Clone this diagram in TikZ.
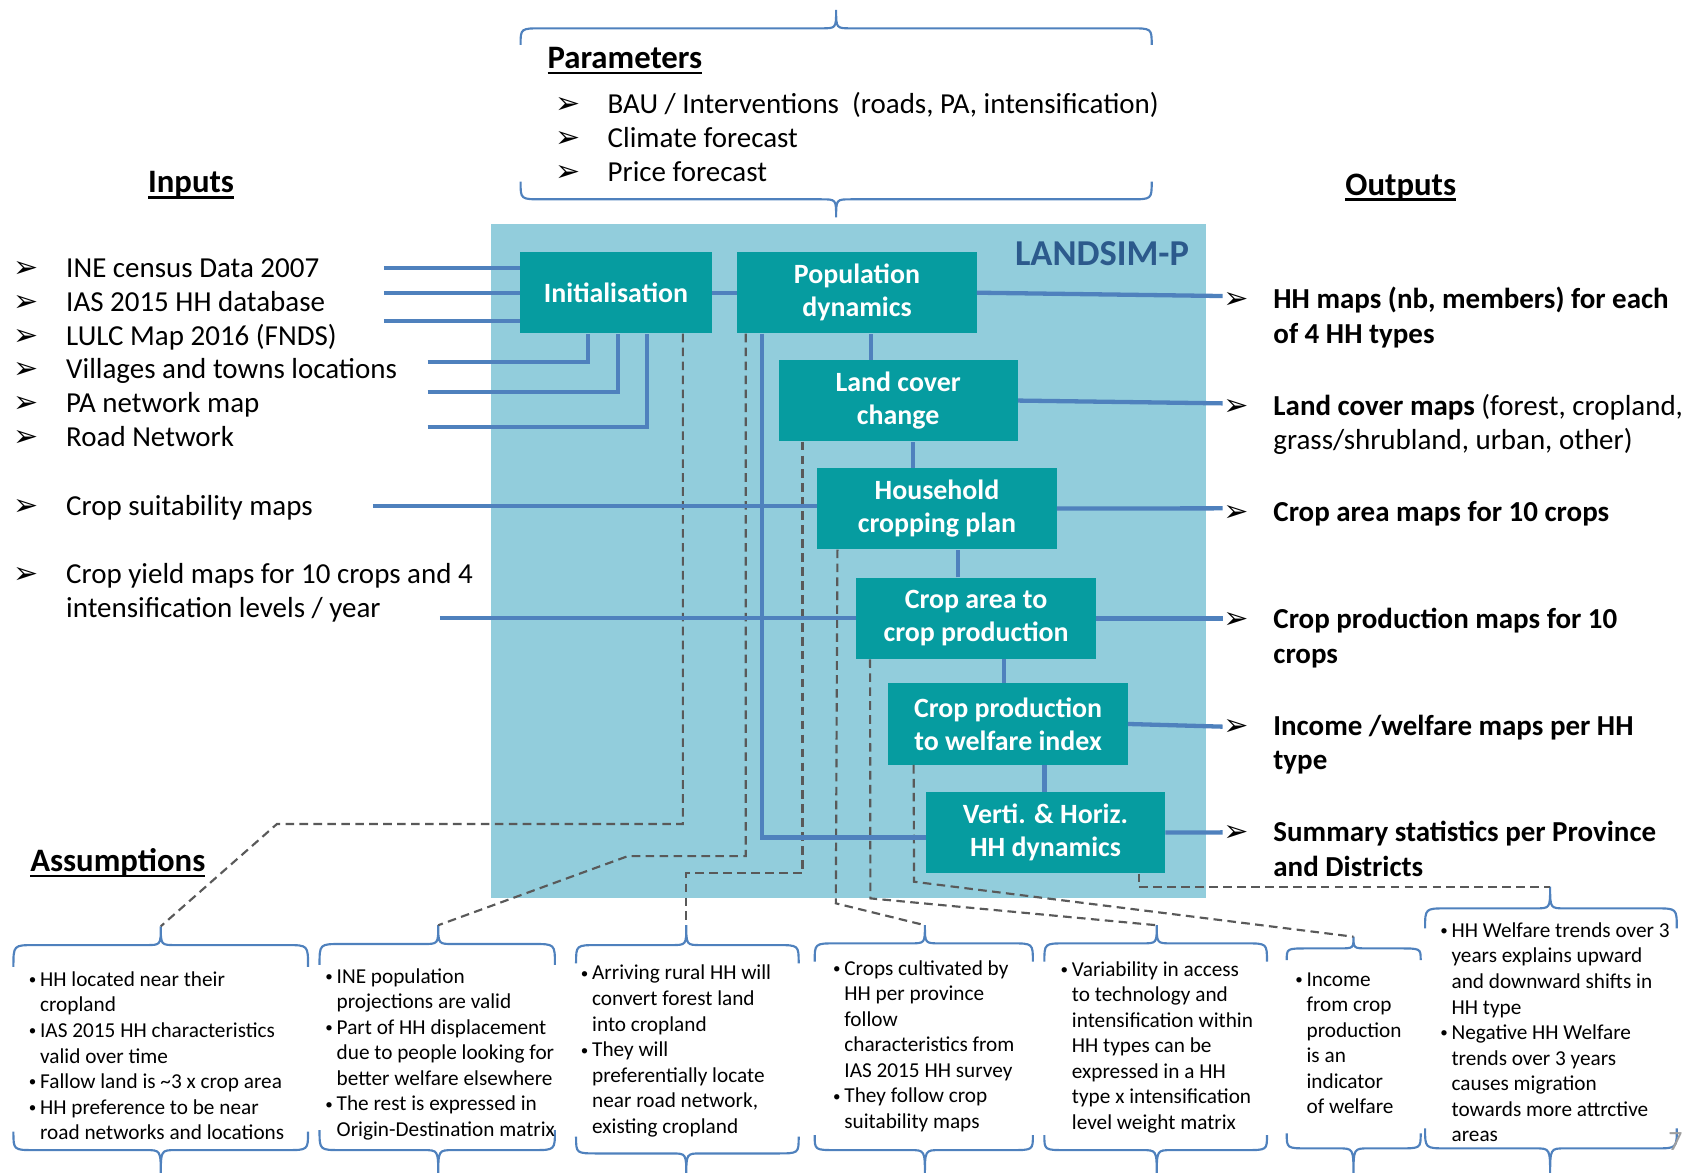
\documentclass[tikz,border=0pt]{standalone}
\usepackage{fontspec}
\setmainfont{Carlito}
\newfontfamily\symf{DejaVu Sans}
\usetikzlibrary{calc}
\definecolor{lsbg}{RGB}{146,205,220}
\definecolor{lsbox}{RGB}{6,156,160}
\definecolor{lsline}{RGB}{79,129,189}
\definecolor{lsname}{RGB}{44,90,140}
\definecolor{lsdash}{RGB}{89,89,89}
\def\cbrace(#1)(#2:#3:#4)(#5:#6:#7){\draw[brc] (#2,#7) .. controls (#2,#6) .. (#2+20,#6) -- (#4-14,#6) .. controls (#4,#6) .. (#4,#5) .. controls (#4,#6) .. (#4+14,#6) -- (#3-20,#6) .. controls (#3,#6) .. (#3,#7); \coordinate (#1) at (#4,#5);}
\def\arr{\raisebox{0pt}{\fontsize{28}{28}\symf ➢}}
\def\ib{\makebox[49pt][l]{\arr}}
\def\ii{\hspace*{49pt}}
\def\ob{\makebox[46.7pt][l]{\arr}}
\def\oi{\hspace*{46.7pt}}
\def\abul{\makebox[10.5pt][l]{\raisebox{1.5pt}{\fontsize{14}{14}\selectfont •}}}
\def\aind{\hspace*{10.5pt}}
\def\undl#1{\setbox0=\hbox{#1}\rlap{\rule[-5.5pt]{\wd0}{2.5pt}}\box0}

\begin{document}
\begin{tikzpicture}[x=1pt, y=-1pt,
		box/.style={fill=lsbox, text=white, font=\fontsize{26}{31}\selectfont\bfseries, align=center, minimum width=223pt, minimum height=76pt, inner sep=0pt},
		link/.style={draw=lsline, line width=4pt},
		dsh/.style={draw=lsdash, line width=2pt, dash pattern=on 8pt off 5pt},
		brc/.style={draw=lsline, line width=2pt},
		item/.style={anchor=base west, inner sep=0pt, align=left, font=\fontsize{27}{32}\selectfont},
		note/.style={anchor=base west, inner sep=0pt, align=left, font=\fontsize{19.8}{23.8}\selectfont},
		head/.style={anchor=base, inner sep=0pt, font=\fontsize{30.5}{36}\selectfont\bfseries}]
		%%%%% START %%%%%
		\useasboundingbox (0,0) rectangle (1568,1092);
		
		\fill[lsbg] (457.2,208.7) rectangle (1123.7,836.4);
		\node[anchor=base east, inner sep=0pt, text=lsname, font=\fontsize{34}{40}\selectfont\bfseries] (lsname) at (1108,247.8) {LANDSIM-P};
		
		\node[box, minimum width=178.4pt] (init) at (573.9,272.7) {Initialisation};
		\node[box] (pop) at (798.4,272.7) {Population\\dynamics};
		\node[box] (land) at (836.8,373.2) {Land cover\\change};
		\node[box] (hh) at (872.9,473.8) {Household\\cropping plan};
		\node[box] (area) at (909.4,576.1) {Crop area to\\crop production};
		\node[box] (welf) at (939.2,674.5) {Crop production\\to welfare index};
		\node[box] (dyn) at (974.1,775.7) {Verti. \& Horiz.\\HH dynamics};
		
		\node[head, anchor=base west] (partitle) at (510,63.7) {\undl{Parameters}};
		\node[item] (par1) at (517,105.6) {\ib BAU / Interventions~ (roads, PA, intensification)};
		\node[item] (par2) at (517,137.5) {\ib Climate forecast};
		\node[item] (par3) at (517,169.3) {\ib Price forecast};
		\cbrace(pt)(485:1073:779)(9.3:26.4:41.9)
		\cbrace(pb)(485:1073:779)(202.5:185.7:169.3)
		
		\node[head] (intitle) at (178,179.5) {\undl{Inputs}};
		\node[item] (in1) at (12.5,258.4) {\ib INE census Data 2007};
		\node[item] (in2) at (12.5,290) {\ib IAS 2015 HH database};
		\node[item] (in3) at (12.5,321.5) {\ib LULC Map 2016 (FNDS)};
		\node[item] (in4) at (12.5,353) {\ib Villages and towns locations};
		\node[item] (in5) at (12.5,384.7) {\ib PA network map};
		\node[item] (in6) at (12.5,416.2) {\ib Road Network};
		\node[item] (in7) at (12.5,480) {\ib Crop suitability maps};
		\node[item] (in8) at (12.5,543.5+32) {\ib Crop yield maps for 10 crops and 4\\\ii intensification levels / year};
		
		\node[head] (outtitle) at (1305,181.7) {\undl{Outputs}};
		\node[item, font=\fontsize{27}{32.5}\selectfont\bfseries] (out1) at (1139.5,287.3+32.5) {\ob HH maps (nb, members) for each\\\oi of 4 HH types};
		\node[item, font=\fontsize{27}{32.5}\selectfont\bfseries] (out2) at (1139.5,386.7+32.5) {\ob Land cover maps {\mdseries (forest, cropland,}\\\oi{\mdseries grass/shrubland, urban, other)}};
		\node[item, font=\fontsize{27}{32.5}\selectfont\bfseries] (out3) at (1139.5,486) {\ob Crop area maps for 10 crops};
		\node[item, font=\fontsize{27}{32.5}\selectfont\bfseries] (out4) at (1139.5,585.4+32.5) {\ob Crop production maps for 10\\\oi crops};
		\node[item, font=\fontsize{27}{32.5}\selectfont\bfseries] (out5) at (1139.5,684.8+32.5) {\ob Income /welfare maps per HH\\\oi type};
		\node[item, font=\fontsize{27}{32.5}\selectfont\bfseries] (out6) at (1139.5,784.2+32.5) {\ob Summary statistics per Province\\\oi and Districts};
		
		\node[head, anchor=base west] (astitle) at (28,812) {\undl{Assumptions}};
		
		\cbrace(b1)(12.5:287:149.8)(863:880.5:900.7)
		\cbrace(c1)(12.5:287:149.8)(1096:1071.5:1054.4)
		\cbrace(b2)(297.7:517:408.3)(862:879.5:899)
		\cbrace(c2)(297.7:517:408.3)(1096:1071.5:1053)
		\cbrace(b3)(536.7:744.1:639.4)(862:880.5:897.5)
		\cbrace(c3)(536.7:744.1:639.4)(1096:1074.6:1059)
		\cbrace(b4)(759:962.3:861.7)(862:878.9:896)
		\cbrace(c4)(759:962.3:861.7)(1096:1071.5:1057.5)
		\cbrace(b5)(973:1180.4:1077.7)(862:878.9:896)
		\cbrace(c5)(973:1180.4:1077.7)(1096:1071.5:1057.5)
		\cbrace(b6)(1198.8:1323.6:1261)(872.7:883.6:894.5)
		\cbrace(c6)(1198.8:1323.6:1261)(1096:1069.9:1056)
		\cbrace(b7)(1327.7:1562.2:1444.2)(826.1:846.3:865)
		\cbrace(c7)(1327.7:1562.2:1444.2)(1096:1069.9:1051.3)
		
		\node[note] (as1) at (26.7,919+6*23.8) {\abul HH located near their\\\aind cropland\\\abul IAS 2015 HH characteristics\\\aind valid over time\\\abul Fallow land is \textasciitilde3 x crop area\\\abul HH preference to be near\\\aind road networks and locations};
		\node[note] (as2) at (303,916+6*23.8) {\abul INE population\\\aind projections are valid\\\abul Part of HH displacement\\\aind due to people looking for\\\aind better welfare elsewhere\\\abul The rest is expressed in\\\aind Origin-Destination matrix};
		\node[note] (as3) at (541,913+6*23.8) {\abul Arriving rural HH will\\\aind convert forest land\\\aind into cropland\\\abul They will\\\aind preferentially locate\\\aind near road network,\\\aind existing cropland};
		\node[note] (as4) at (776,908.4+6*23.8) {\abul Crops cultivated by\\\aind HH per province\\\aind follow\\\aind characteristics from\\\aind IAS 2015 HH survey\\\abul They follow crop\\\aind suitability maps};
		\node[note] (as5) at (988,909.4+6*23.8) {\abul Variability in access\\\aind to technology and\\\aind intensification within\\\aind HH types can be\\\aind expressed in a HH\\\aind type x intensification\\\aind level weight matrix};
		\node[note] (as6) at (1206.6,918.7+5*23.8) {\abul Income\\\aind from crop\\\aind production\\\aind is an\\\aind indicator\\\aind of welfare};
		\node[note] (as7) at (1341.7,873.3+8*23.8) {\abul HH Welfare trends over 3\\\aind years explains upward\\\aind and downward shifts in\\\aind HH type\\\abul Negative HH Welfare\\\aind trends over 3 years\\\aind causes migration\\\aind towards more attrctive\\\aind areas};
		\node[anchor=base, inner sep=0pt, text=gray!75, font=\fontsize{26}{30}\selectfont] (pgnum) at (1561,1072) {7};
		
		\coordinate (s1) at ($(init.south west)+(151.7,0)$);
		\coordinate (s2) at ($(pop.south west)+(8.1,0)$);
		\coordinate (s3) at ($(land.south west)+(22.5,0)$);
		\coordinate (s4) at ($(hh.south west)+(19,0)$);
		\coordinate (s5) at ($(area.south west)+(12.9,0)$);
		\coordinate (s6) at ($(welf.south west)+(23.7,0)$);
		\coordinate (s7) at ($(dyn.south west)+(198.4,0)$);
		\draw[dsh] (s1) |- (258,767.7) -- (b1);
		\draw[dsh] (s2) |- (585,797.6) -- (b2);
		\draw[dsh] (s3) |- (640.1,813.7) -| (b3);
		\draw[dsh] (s4) -- (778.7,841.6) -- (b4);
		\draw[dsh] (s5) -- (810.9,837) -- (b5);
		\draw[dsh] (s6) -- (851.6,821.5) -- (b6);
		\draw[dsh] (s7) |- (b7);
		
		\coordinate (i1) at (357.7,250);
		\coordinate (i2) at (357.7,272.7);
		\coordinate (i3) at (357.7,299);
		\coordinate (i4) at (398.5,337);
		\coordinate (i5) at (398.5,365);
		\coordinate (i6) at (398.5,397.5);
		\coordinate (i7) at (347.3,471.1);
		\coordinate (i8) at (409.7,575.5);
		\draw[link] (i1) -- (i1 -| init.west);
		\draw[link] (i2) -- (init.west);
		\draw[link] (i3) -- (i3 -| init.west);
		\draw[link] (i4) -| ($(init.south west)+(63.2,0)$);
		\draw[link] (i5) -| ($(init.south west)+(91,0)$);
		\draw[link] (i6) -| ($(init.south west)+(118.4,0)$);
		\draw[link] (i7) -- (i7 -| hh.west);
		\draw[link] (i8) -- (i8 -| area.west);
		
		\draw[link] (init) -- (pop);
		\coordinate (l1) at ($(land.north west)+(86.2,0)$);
		\coordinate (l2) at ($(hh.north west)+(89.5,0)$);
		\coordinate (l3) at ($(area.north west)+(95,0)$);
		\coordinate (l4) at ($(welf.north west)+(107.9,0)$);
		\coordinate (l5) at ($(dyn.north west)+(110.6,0)$);
		\draw[link] (l1) -- (l1 |- pop.south);
		\draw[link] (l2) -- (l2 |- land.south);
		\draw[link] (l3) -- (l3 |- hh.south);
		\draw[link] (l4) -- (l4 |- area.south);
		\draw[link] (l5) -- (l5 |- welf.south);
		\draw[link] ($(pop.south west)+(23.4,0)$) |- ($(dyn.west)+(0,4.5)$);
		
		\coordinate (o1) at (1139,275.8);
		\coordinate (o2) at (1139,375.8);
		\coordinate (o3) at (1139,473.6);
		\coordinate (o4) at (1139,576.1);
		\coordinate (o5) at (1139,677);
		\coordinate (o6) at (1139,775.5);
		\draw[link] (pop.east) -- (o1);
		\draw[link] (land.east) -- (o2);
		\draw[link] (hh.east) -- (o3);
		\draw[link] (area.east) -- (o4);
		\draw[link] (welf.east) -- (o5);
		\draw[link] (dyn.east) -- (o6);
		
		%%%%% END %%%%%
	\end{tikzpicture}
\end{document}
